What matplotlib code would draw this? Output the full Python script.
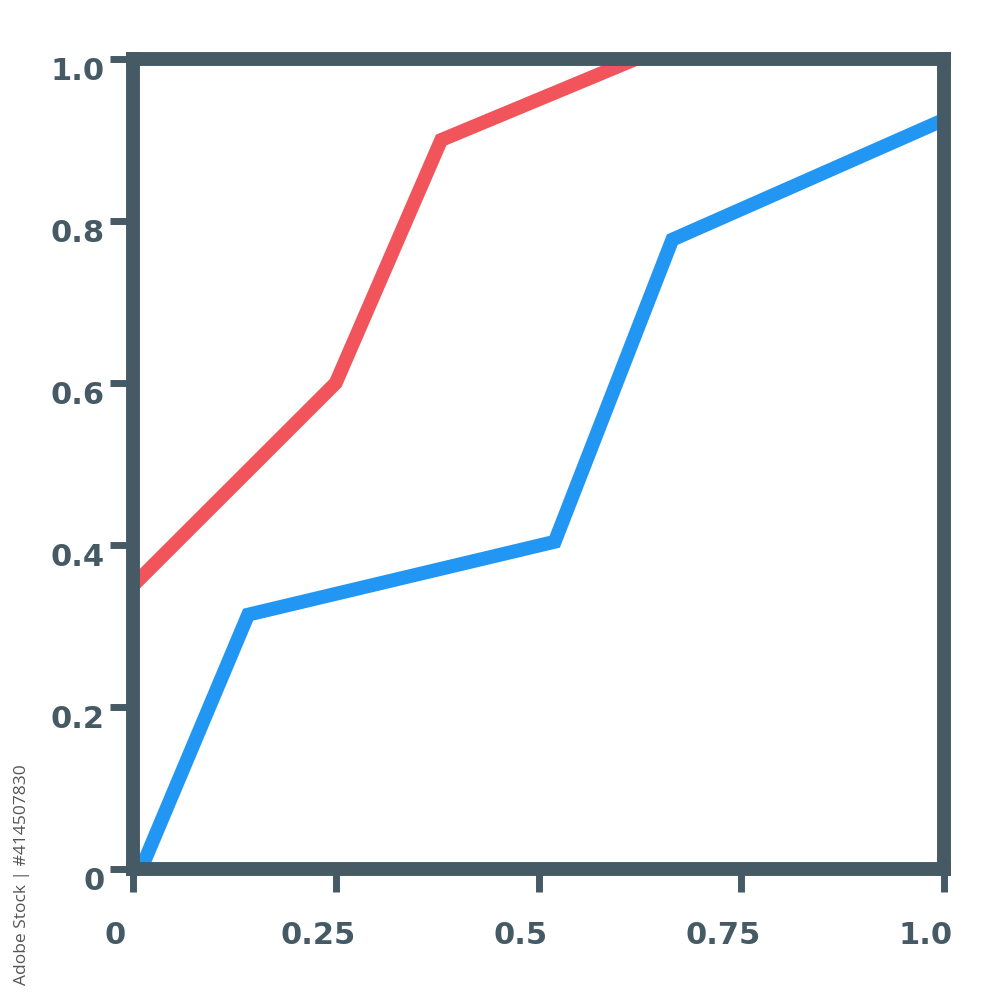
import matplotlib
matplotlib.use("Agg")
import matplotlib.pyplot as plt
import matplotlib.transforms as mtransforms

# Colors
FRAME = "#455a64"
RED = "#f2545b"
BLUE = "#2196f3"

# Data
red_x = [0.0, 0.25, 0.38, 0.62]
red_y = [0.35, 0.60, 0.90, 1.00]
blue_x = [0.01, 0.142, 0.52, 0.665, 1.0]
blue_y = [0.0, 0.314, 0.404, 0.777, 0.925]

x_ticks = [0, 0.25, 0.5, 0.75, 1.0]
x_labels = ["0", "0.25", "0.5", "0.75", "1.0"]
y_ticks = [0, 0.2, 0.4, 0.6, 0.8, 1.0]
y_labels = ["0", "0.2", "0.4", "0.6", "0.8", "1.0"]

fig = plt.figure(figsize=(10, 10), dpi=100, facecolor="white")
ax = fig.add_axes([0.133, 0.131, 0.811, 0.810])

ax.plot(red_x, red_y, color=RED, linewidth=10, solid_capstyle="butt",
        solid_joinstyle="miter")
ax.plot(blue_x, blue_y, color=BLUE, linewidth=10, solid_capstyle="butt",
        solid_joinstyle="miter")

ax.set_xlim(0, 1)
ax.set_ylim(0, 1)

ax.set_xticks(x_ticks)
ax.set_xticklabels(x_labels)
ax.set_yticks(y_ticks)
ax.set_yticklabels(y_labels)

for spine in ax.spines.values():
    spine.set_color(FRAME)
    spine.set_linewidth(10)

ax.tick_params(axis="both", direction="out", length=16.5, width=5,
               color=FRAME, labelcolor=FRAME)
ax.tick_params(axis="x", pad=21)
ax.tick_params(axis="y", pad=4)

for lab in ax.get_xticklabels() + ax.get_yticklabels():
    lab.set_fontfamily("DejaVu Sans")
    lab.set_fontweight("bold")
    lab.set_fontsize(22)

# x labels sit a little left of their ticks in the reference
shift_x = mtransforms.ScaledTranslation(-18 / 100, 0, fig.dpi_scale_trans)
for lab in ax.get_xticklabels():
    lab.set_transform(lab.get_transform() + shift_x)
shift_y = mtransforms.ScaledTranslation(0, -10 / 100, fig.dpi_scale_trans)
for lab in ax.get_yticklabels():
    lab.set_transform(lab.get_transform() + shift_y)

# Stock watermark text on the left edge
fig.text(0.022, 0.125, "Adobe Stock | #414507830", rotation=90,
         fontsize=12.5, color="#555555", ha="center", va="center",
         family="Open Sans")

fig.savefig("out.png", dpi=100, facecolor="white")
